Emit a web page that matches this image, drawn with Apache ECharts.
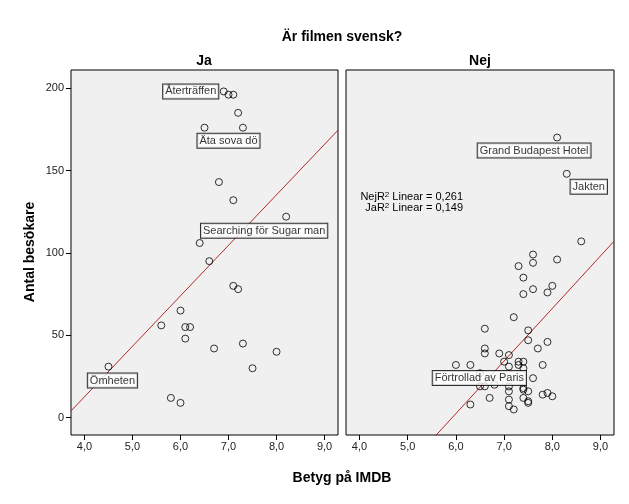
<!DOCTYPE html>
<html>
<head>
<meta charset="utf-8">
<script src="https://cdn.jsdelivr.net/npm/echarts@6/dist/echarts.min.js"></script>
<style>html,body{margin:0;padding:0;background:#fff}#c{width:629px;height:504px}</style>
</head>
<body>
<div id="c"></div>
<script>
// ---- data ----
const panels = ['Ja', 'Nej'];
const jaX = [6.9, 7.0, 7.1, 7.2, 6.5, 7.3, 6.8, 7.1, 8.2, 6.4, 6.6, 7.1, 7.2, 6.0, 5.6, 6.1, 6.2, 6.1, 6.7, 7.3, 8.0, 7.5, 4.5, 5.8, 6.0];
const jaY = [198, 196, 196, 185, 176, 176, 143, 132, 122, 106, 95, 80, 78, 65, 56, 55, 55, 48, 42, 45, 40, 30, 31, 12, 9];
const nejX = [8.1, 8.3, 8.6, 7.6, 8.1, 7.6, 7.3, 7.4, 7.6, 8.0, 7.4, 7.9, 7.2, 6.6, 7.5, 7.5, 7.9, 7.7, 6.6, 6.6, 6.9, 7.1, 7.0, 7.3, 7.4, 6.0, 6.3, 7.1, 7.3, 7.8, 7.4, 7.6, 6.5, 6.6, 6.5, 6.8, 7.1, 7.4, 7.1, 7.5, 7.4, 7.8, 7.9, 8.0, 6.7, 7.4, 7.1, 7.5, 7.5, 6.3, 7.1, 7.2];
const nejY = [170, 148, 107, 99, 96, 94, 92, 85, 78, 80, 75, 76, 61, 54, 53, 47, 46, 42, 42, 39, 39, 38, 34, 34, 34, 32, 32, 31, 32, 32, 30, 24, 27, 19, 19, 20, 19, 18, 16, 16, 17, 14, 15, 13, 12, 12, 11, 10, 9, 8, 7, 5];
// labelled cases
const labelText = ['Återträffen', 'Äta sova dö', 'Searching för Sugar man', 'Ömheten', 'Grand Budapest Hotel', 'Jakten', 'Förtrollad av Paris'];
const labelPanel = ['Ja', 'Ja', 'Ja', 'Ja', 'Nej', 'Nej', 'Nej'];
const labelX = [6.9, 6.5, 8.2, 4.5, 8.1, 8.3, 6.3];
const labelY = [198, 176, 122, 31, 170, 148, 32];
// fit lines (values at the panel edges)
const fitX = [3.72, 9.28];
const jaFitY = [4.1, 174.5];
const nejFitY = [-70.2, 107.1];
const r2Text = ['0,261', '0,149'];
const xTicks = [4, 5, 6, 7, 8, 9];
const yTicks = [0, 50, 100, 150, 200];

// ---- styles ----
const labelOffsets = {
  'Återträffen': [-33, 0],
  'Äta sova dö': [24, 13],
  'Searching för Sugar man': [-22, 14],
  'Ömheten': [4, 14],
  'Grand Budapest Hotel': [-23, 13],
  'Jakten': [22, 13],
  'Förtrollad av Paris': [9, 13]
};
const FONT = 'Liberation Sans, Arial, sans-serif';

function buildPoints(panel, xs, ys) {
  const used = {};
  return xs.map((x, i) => {
    const item = { value: [x, ys[i]] };
    for (let k = 0; k < labelText.length; k++) {
      if (!used[k] && labelPanel[k] === panel && labelX[k] === x && labelY[k] === ys[i]) {
        item.label = {
          show: true, position: 'inside', formatter: labelText[k],
          offset: labelOffsets[labelText[k]],
          color: '#000', fontSize: 11, fontFamily: FONT,
          backgroundColor: '#fff', borderColor: '#000', borderWidth: 1,
          padding: [2, 2, 1, 2]
        };
        used[k] = true;
        break;
      }
    }
    return item;
  });
}

const chart = echarts.init(document.getElementById('c'), null, { renderer: 'canvas' });

const grids = [
  { left: 71, top: 70, width: 267, height: 365 },
  { left: 346, top: 70, width: 268, height: 365 }
];

function xAxis(i) {
  return {
    type: 'value', gridIndex: i, min: 3.72, max: 9.28, position: 'bottom',
    splitLine: { show: false },
    axisLine: { show: false, onZero: false },
    axisTick: { show: true, customValues: xTicks, length: 5, inside: false, lineStyle: { color: '#000' } },
    axisLabel: { show: true, customValues: xTicks, margin: 6, color: '#222', fontSize: 11, fontFamily: FONT,
      formatter: v => v.toFixed(1).replace('.', ',') }
  };
}
function yAxis(i) {
  return {
    type: 'value', gridIndex: i, min: -10.5, max: 211, position: 'left',
    splitLine: { show: false },
    axisLine: { show: false, onZero: false },
    axisTick: { show: i === 0, customValues: yTicks, length: 5, inside: false, lineStyle: { color: '#000' } },
    axisLabel: { show: i === 0, customValues: yTicks, margin: 7, color: '#222', fontSize: 11, fontFamily: FONT }
  };
}

const symbolStyle = { color: 'rgba(0,0,0,0)', borderColor: '#000', borderWidth: 1 };

chart.setOption({
  backgroundColor: '#fff',
  animation: false,
  grid: grids.map(g => Object.assign({ show: true, backgroundColor: '#f0f0f0', borderColor: '#000', borderWidth: 1 }, g)),
  xAxis: [xAxis(0), xAxis(1)],
  yAxis: [yAxis(0), yAxis(1)],
  series: [
    { type: 'line', xAxisIndex: 0, yAxisIndex: 0, data: fitX.map((x, i) => [x, jaFitY[i]]), symbol: 'none', clip: true,
      lineStyle: { color: '#b32a2a', width: 1 }, z: 1 },
    { type: 'line', xAxisIndex: 1, yAxisIndex: 1, data: fitX.map((x, i) => [x, nejFitY[i]]), symbol: 'none', clip: true,
      lineStyle: { color: '#b32a2a', width: 1 }, z: 1 },
    { type: 'scatter', xAxisIndex: 0, yAxisIndex: 0, data: buildPoints('Ja', jaX, jaY), symbol: 'circle', symbolSize: 7,
      itemStyle: symbolStyle, z: 2 },
    { type: 'scatter', xAxisIndex: 1, yAxisIndex: 1, data: buildPoints('Nej', nejX, nejY), symbol: 'circle', symbolSize: 7,
      itemStyle: symbolStyle, z: 2 }
  ],
  graphic: [
    { type: 'text', x: 342, y: 37, style: { text: 'Är filmen svensk?', font: 'bold 14px ' + FONT, fill: '#000', align: 'center', verticalAlign: 'middle' } },
    { type: 'text', x: 204, y: 61, style: { text: panels[0], font: 'bold 14px ' + FONT, fill: '#000', align: 'center', verticalAlign: 'middle' } },
    { type: 'text', x: 480, y: 61, style: { text: panels[1], font: 'bold 14px ' + FONT, fill: '#000', align: 'center', verticalAlign: 'middle' } },
    { type: 'text', x: 342, y: 478, style: { text: 'Betyg på IMDB', font: 'bold 14px ' + FONT, fill: '#000', align: 'center', verticalAlign: 'middle' } },
    { type: 'text', x: 30, y: 252, rotation: Math.PI / 2, style: { text: 'Antal besökare', font: 'bold 14px ' + FONT, fill: '#000', align: 'center', verticalAlign: 'middle' } },
    { type: 'text', x: 463, y: 197, style: {
        text: panels[1] + 'R{s|2} Linear = ' + r2Text[0], font: '11px ' + FONT, fill: '#000', align: 'right', verticalAlign: 'middle',
        rich: { s: { fontSize: 8, fontFamily: FONT, verticalAlign: 'top', padding: [0, 0, 5, 0] } } } },
    { type: 'text', x: 463, y: 208, style: {
        text: panels[0] + 'R{s|2} Linear = ' + r2Text[1], font: '11px ' + FONT, fill: '#000', align: 'right', verticalAlign: 'middle',
        rich: { s: { fontSize: 8, fontFamily: FONT, verticalAlign: 'top', padding: [0, 0, 5, 0] } } } }
  ]
});
</script>
</body>
</html>
